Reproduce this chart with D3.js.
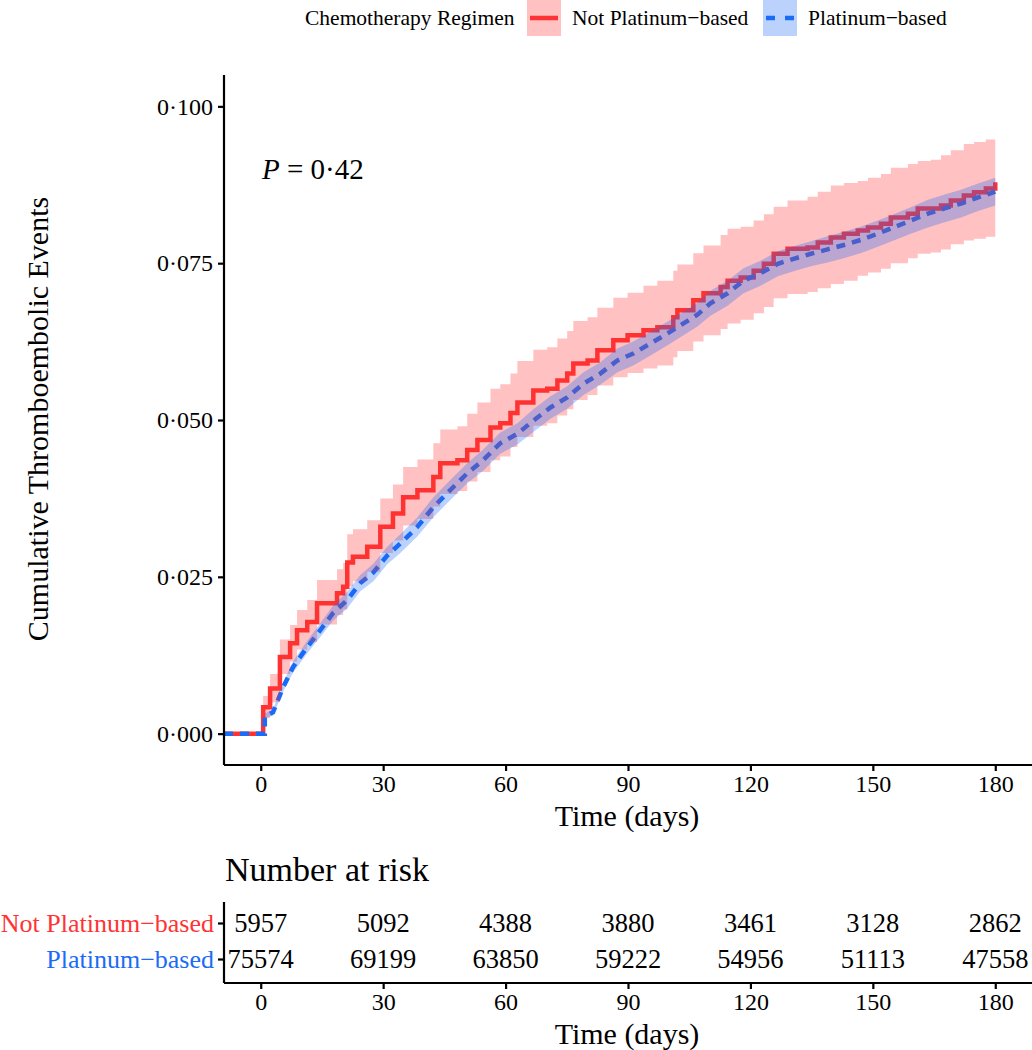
<!DOCTYPE html>
<html><head><meta charset="utf-8">
<script src="https://cdn.jsdelivr.net/npm/d3@7"></script>
<style>body{margin:0;background:#fff}svg{display:block;font-family:"Liberation Serif","Times New Roman",serif}svg text{font-family:"Liberation Serif","Times New Roman",serif}</style>
</head><body><svg id="c" width="1032" height="1050"></svg>
<script>
const groups = ["Not Platinum\u2212based", "Platinum\u2212based"];
const colors = ["#FF3333", "#1A6BF5"];
const legendTitle = "Chemotherapy Regimen";
const xTicks = [0, 30, 60, 90, 120, 150, 180];
const yTicks = [0, 0.025, 0.05, 0.075, 0.1];

const redTime = [-9,0.6,2.3,4.7,7.2,8.9,11.4,13.8,18.7,20.2,21.2,22.6,26.1,29.3,32.4,34.9,38.4,42.3,44.0,48.2,50.6,53.1,56.3,58.7,61.2,62.9,66.8,70.2,72.7,75.1,76.6,80.1,82.5,86.4,89.9,93.8,97.2,101.1,102.1,106.0,108.5,112.7,114.4,117.6,120.8,123.3,125.7,129.1,134.0,136.5,139.7,142.9,146.3,148.8,152.0,154.4,158.6,161.0,164.2,166.7,169.1,172.3,174.8,177.7,180.0];
const redEst = [0,.0042,.0072,.0122,.0144,.0165,.0178,.0208,.0224,.0234,.0273,.0282,.0298,.0330,.0351,.0377,.0388,.0409,.0431,.0436,.0452,.0468,.0488,.0495,.0511,.0528,.0547,.0550,.0563,.0574,.0590,.0595,.0611,.0627,.0635,.0643,.0648,.0664,.0675,.0691,.0702,.0712,.0722,.0727,.0738,.0749,.0765,.0773,.0775,.0783,.0791,.0797,.0802,.0807,.0813,.0823,.0829,.0837,.0837,.0842,.0850,.0858,.0863,.0869,.0879];
const redLow = [0,.0025,.0050,.0095,.0115,.0134,.0146,.0174,.0189,.0198,.0235,.0243,.0258,.0288,.0308,.0332,.0342,.0362,.0382,.0387,.0402,.0417,.0436,.0442,.0457,.0473,.0491,.0495,.0507,.0517,.0532,.0540,.0555,.0568,.0575,.0582,.0587,.0600,.0610,.0625,.0635,.0645,.0654,.0660,.0670,.0680,.0694,.0701,.0704,.0710,.0717,.0722,.0730,.0735,.0741,.0750,.0758,.0765,.0767,.0772,.0780,.0786,.0789,.0792,.0797];
const redHigh = [0,.0060,.0095,.0150,.0173,.0197,.0213,.0245,.0262,.0272,.0318,.0326,.0340,.0375,.0397,.0425,.0437,.0463,.0485,.0490,.0510,.0528,.0550,.0557,.0574,.0594,.0612,.0616,.0630,.0642,.0658,.0664,.0679,.0695,.0703,.0714,.0722,.0738,.0748,.0766,.0778,.0795,.0805,.0808,.0818,.0828,.0840,.0850,.0856,.0864,.0874,.0878,.0881,.0886,.0892,.0902,.0908,.0913,.0915,.0922,.0930,.0940,.0943,.0947,.0958];

const blueTime = [-9,1.0,1.0,3.0,5.5,7.9,11.4,14.6,17.7,21.2,24.4,27.6,31.0,34.2,38.3,42.3,46.4,50.6,54.5,58.7,62.9,66.8,71.0,75.1,79.1,83.2,87.4,91.3,95.5,99.7,103.6,107.0,110.2,114.4,118.3,122.5,126.7,130.6,134.8,138.9,142.9,147.0,151.2,155.1,159.3,163.5,167.4,171.6,175.8,180.0];
const blueEst = [0,0,.0028,.0034,.0074,.0106,.0138,.0165,.0192,.0213,.0240,.0257,.0284,.0303,.0329,.0361,.0388,.0415,.0436,.0463,.0478,.0499,.0520,.0536,.0558,.0574,.0595,.0606,.0622,.0638,.0654,.0668,.0686,.0702,.0722,.0734,.0749,.0757,.0765,.0772,.0779,.0787,.0797,.0807,.0818,.0829,.0837,.0845,.0855,.0864];
const blueLow = [0,0,.0024,.0029,.0067,.0097,.0128,.0154,.0180,.0200,.0227,.0243,.0270,.0288,.0314,.0345,.0372,.0399,.0419,.0446,.0461,.0481,.0502,.0518,.0540,.0556,.0576,.0587,.0603,.0619,.0635,.0649,.0666,.0682,.0702,.0714,.0729,.0737,.0745,.0751,.0758,.0766,.0776,.0786,.0797,.0807,.0815,.0823,.0833,.0842];
const blueHigh = [0,0,.0032,.0039,.0081,.0115,.0148,.0176,.0204,.0226,.0253,.0271,.0298,.0318,.0344,.0377,.0404,.0431,.0453,.0480,.0495,.0517,.0538,.0554,.0576,.0592,.0614,.0625,.0641,.0657,.0673,.0687,.0706,.0722,.0742,.0754,.0769,.0777,.0785,.0793,.0800,.0808,.0818,.0828,.0839,.0851,.0859,.0867,.0877,.0886];

const riskNot = [5957, 5092, 4388, 3880, 3461, 3128, 2862];
const riskPlat = [75574, 69199, 63850, 59222, 54956, 51113, 47558];
const pLabel = "0\u00B742";

const svg = d3.select("#c");
const x = d3.scaleLinear().domain([-9, 189]).range([224, 1032]);
const y = d3.scaleLinear().domain([-0.005, 0.105]).range([765, 75]);

function rows(t, e, l, h) { return t.map((d, i) => ({t: d, e: e[i], l: l[i], h: h[i]})); }
const red = rows(redTime, redEst, redLow, redHigh);
const blue = rows(blueTime, blueEst, blueLow, blueHigh);

const lineStep = d3.line().x(d => x(d.t)).y(d => y(d.e)).curve(d3.curveStepAfter);
const areaStep = d3.area().x(d => x(d.t)).y0(d => y(d.l)).y1(d => y(d.h)).curve(d3.curveStepAfter);
const lineLin = d3.line().x(d => x(d.t)).y(d => y(d.e));
const areaLin = d3.area().x(d => x(d.t)).y0(d => y(d.l)).y1(d => y(d.h));

const plot = svg.append("g");
plot.append("path").datum(red).attr("d", lineStep).attr("fill", "none").attr("stroke", colors[0]).attr("stroke-width", 4.5);
plot.append("path").datum(blue).attr("d", lineLin).attr("fill", "none").attr("stroke", colors[1]).attr("stroke-width", 4.5).attr("stroke-dasharray", "9,7");
plot.append("path").datum(red).attr("d", areaStep).attr("fill", colors[0]).attr("fill-opacity", 0.3);
plot.append("path").datum(blue).attr("d", areaLin).attr("fill", colors[1]).attr("fill-opacity", 0.3);

// axes
const fmtY = d => d3.format(".3f")(d).replace(".", "\u00B7");
function styleAxis(a, size) {
  a.attr("font-family", null).attr("font-size", null);
  a.select(".domain").attr("stroke", "#000").attr("stroke-width", 2.2);
  a.selectAll(".tick line").attr("stroke", "#000").attr("stroke-width", 2.2);
  a.selectAll(".tick text").attr("fill", "#000").style("font-size", size + "px");
}
const yAxis = svg.append("g").attr("transform", "translate(224,0)")
  .call(d3.axisLeft(y).tickValues(yTicks).tickFormat(fmtY).tickSize(6).tickPadding(5));
const xAxis = svg.append("g").attr("transform", "translate(0,765)")
  .call(d3.axisBottom(x).tickValues(xTicks).tickSize(6).tickPadding(4));
styleAxis(yAxis, 24); styleAxis(xAxis, 24);
yAxis.select(".domain").attr("d", "M0,765V75");
xAxis.select(".domain").attr("d", "M224,0H1032");

svg.append("text").attr("transform", "translate(48,419) rotate(-90)").attr("text-anchor", "middle")
  .style("font-size", "30px").text("Cumulative Thromboembolic Events");
svg.append("text").attr("x", 627).attr("y", 826).attr("text-anchor", "middle")
  .style("font-size", "30px").text("Time (days)");

const pt = svg.append("text").attr("x", 262).attr("y", 179).style("font-size", "29px");
pt.append("tspan").style("font-style", "italic").text("P");
pt.append("tspan").text(" = " + pLabel);

// legend
const lg = svg.append("g");
lg.append("text").attr("x", 305).attr("y", 25).style("font-size", "21.5px").text(legendTitle);
const keyX = [527, 763], textX = [572, 808];
groups.forEach((g, i) => {
  lg.append("rect").attr("x", keyX[i]).attr("y", 0).attr("width", 34).attr("height", 36)
    .attr("fill", colors[i]).attr("fill-opacity", 0.3);
  const l = lg.append("line").attr("x1", keyX[i] + 3).attr("x2", keyX[i] + 31).attr("y1", 18).attr("y2", 18)
    .attr("stroke", colors[i]).attr("stroke-width", 4.5);
  if (i === 1) l.attr("stroke-dasharray", "9,10");
  lg.append("text").attr("x", textX[i]).attr("y", 25).style("font-size", "21.5px").text(g);
});

// risk table
svg.append("text").attr("x", 225).attr("y", 881).style("font-size", "34px").text("Number at risk");
const rowY = [923, 959];
const ry = d3.scaleOrdinal().domain(groups).range(rowY);
const riskAxisY = svg.append("g").attr("transform", "translate(224,0)")
  .call(d3.axisLeft(ry).tickSize(6).tickPadding(4));
styleAxis(riskAxisY, 26);
riskAxisY.select(".domain").attr("d", "M0,902V983");
riskAxisY.selectAll(".tick text").attr("fill", (d, i) => colors[i]);
const riskX = svg.append("g").attr("transform", "translate(0,983)")
  .call(d3.axisBottom(x).tickValues(xTicks).tickSize(6).tickPadding(4));
styleAxis(riskX, 24);
riskX.select(".domain").attr("d", "M224,0H1032");
[riskNot, riskPlat].forEach((arr, r) => {
  svg.append("g").selectAll("text").data(arr).join("text")
    .attr("x", (d, i) => x(xTicks[i])).attr("y", rowY[r]).attr("dy", "0.35em")
    .attr("text-anchor", "middle").style("font-size", "26.5px").text(d => d);
});
svg.append("text").attr("x", 627).attr("y", 1044).attr("text-anchor", "middle")
  .style("font-size", "30px").text("Time (days)");
</script></body></html>
